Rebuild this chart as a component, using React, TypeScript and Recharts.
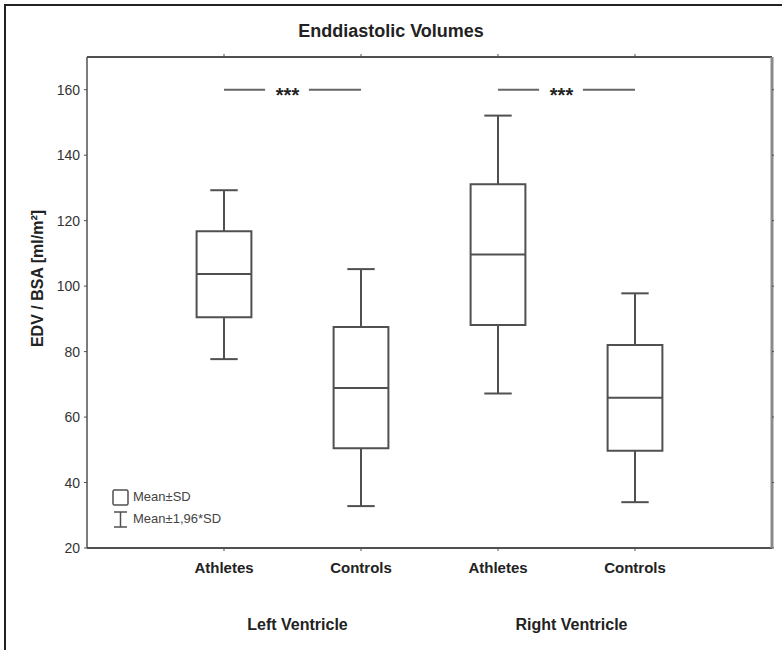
import React from "react";
import {
  ComposedChart,
  Scatter,
  XAxis,
  YAxis,
  ReferenceArea,
  ReferenceLine,
  ReferenceDot,
} from "recharts";

// values (ml/m²)
const categories = ["Athletes", "Controls", "Athletes", "Controls"];
const groups = ["Left Ventricle", "Right Ventricle"];
const means = [103.7, 68.9, 109.7, 65.9];
const sdLow = [90.5, 50.5, 88.1, 49.7];
const sdHigh = [116.8, 87.5, 131.1, 82.0];
const ciLow = [77.7, 32.8, 67.2, 34.0];
const ciHigh = [129.3, 105.2, 152.1, 97.8];
const yTicks = [20, 40, 60, 80, 100, 120, 140, 160];
const sigPairs = [
  { from: 1, to: 2, value: 160, label: "***" },
  { from: 3, to: 4, value: 160, label: "***" },
];

const FONT = "'Liberation Sans', Arial, sans-serif";
const INK = "#505050";
const BOX_HALF = 0.2;
const CAP_HALF = 0.1;
const SIG_GAP = 0.16;

const boxData = categories.map((name, i) => ({
  pos: i + 1,
  name,
  mean: means[i],
  lo: sdLow[i],
  hi: sdHigh[i],
  min: ciLow[i],
  max: ciHigh[i],
}));

const YLabel = ({ viewBox }: any) => {
  const cx = viewBox.x + viewBox.width / 2 - 6;
  const cy = viewBox.y + viewBox.height / 2 - 24;
  return (
    <text
      transform={`translate(${cx},${cy}) rotate(-90)`}
      textAnchor="middle"
      dominantBaseline="central"
      fontFamily={FONT}
      fontWeight="bold"
      fontSize={16}
      fill="#222"
    >
      EDV / BSA [ml/m²]
    </text>
  );
};

const Stars = ({ viewBox, value }: any) => {
  const cx = viewBox.x + viewBox.width / 2 - 5;
  const cy = viewBox.y + viewBox.height / 2;
  return (
    <text x={cx} y={cy + 12} textAnchor="middle" fontFamily={FONT} fontWeight="bold" fontSize={20} fill="#222">
      {value}
    </text>
  );
};

export default function App() {
  return (
    <div style={{ position: "absolute", left: 0, top: 0, width: 782, height: 650, background: "#fff", fontFamily: FONT }}>
      <div
        style={{
          position: "absolute",
          left: 0,
          top: 21,
          width: 782,
          textAlign: "center",
          fontWeight: "bold",
          fontSize: 18,
          color: "#222",
        }}
      >
        Enddiastolic Volumes
      </div>

      <ComposedChart width={782} height={650} margin={{ top: 0, right: 0, bottom: 0, left: 0 }} data={boxData}>
        <XAxis
          xAxisId="top"
          orientation="top"
          type="number"
          dataKey="pos"
          domain={[0, 5]}
          ticks={[1, 2, 3, 4]}
          allowDataOverflow
          height={57}
          tickFormatter={() => ""}
          tickSize={3}
          axisLine={{ stroke: INK, strokeWidth: 2 }}
          tickLine={{ stroke: INK }}
        />
        <XAxis
          type="number"
          dataKey="pos"
          domain={[0, 5]}
          ticks={[1, 2, 3, 4]}
          allowDataOverflow
          height={40}
          tickSize={3}
          tickMargin={11}
          tickFormatter={(v) => categories[v - 1]}
          tick={{ fill: "#222", fontSize: 15, fontWeight: "bold", fontFamily: FONT }}
          axisLine={{ stroke: INK, strokeWidth: 2 }}
          tickLine={{ stroke: INK }}
        />
        <XAxis
          xAxisId="group"
          type="number"
          dataKey="pos"
          domain={[0, 5]}
          ticks={[1.5, 3.5]}
          allowDataOverflow
          height={62}
          axisLine={false}
          tickLine={false}
          tickSize={0}
          tickMargin={31}
          tickFormatter={(v) => groups[Math.floor(v / 2)]}
          tick={{ fill: "#222", fontSize: 16, fontWeight: "bold", fontFamily: FONT, dx: 5 }}
        />
        <YAxis
          type="number"
          domain={[20, 170]}
          ticks={yTicks}
          allowDataOverflow
          width={87}
          tickSize={3}
          tickMargin={4}
          tick={{ fill: "#333", fontSize: 14, fontFamily: FONT }}
          axisLine={{ stroke: INK, strokeWidth: 1.5 }}
          tickLine={{ stroke: INK }}
          label={<YLabel />}
        />
        <YAxis
          yAxisId="right"
          orientation="right"
          type="number"
          domain={[20, 170]}
          ticks={yTicks}
          allowDataOverflow
          width={10}
          tickSize={2}
          tickFormatter={() => ""}
          axisLine={{ stroke: "#8a8a8a", strokeWidth: 3 }}
          tickLine={{ stroke: INK }}
        />

        {boxData.map((d) => (
          <ReferenceLine
            key={`wu${d.pos}`}
            segment={[{ x: d.pos, y: d.hi }, { x: d.pos, y: d.max }]}
            stroke={INK}
            strokeWidth={2}
          />
        ))}
        {boxData.map((d) => (
          <ReferenceLine
            key={`wl${d.pos}`}
            segment={[{ x: d.pos, y: d.min }, { x: d.pos, y: d.lo }]}
            stroke={INK}
            strokeWidth={2}
          />
        ))}
        {boxData.map((d) => (
          <ReferenceLine
            key={`cu${d.pos}`}
            segment={[{ x: d.pos - CAP_HALF, y: d.max }, { x: d.pos + CAP_HALF, y: d.max }]}
            stroke={INK}
            strokeWidth={2}
          />
        ))}
        {boxData.map((d) => (
          <ReferenceLine
            key={`cl${d.pos}`}
            segment={[{ x: d.pos - CAP_HALF, y: d.min }, { x: d.pos + CAP_HALF, y: d.min }]}
            stroke={INK}
            strokeWidth={2}
          />
        ))}
        {boxData.map((d) => (
          <ReferenceArea
            key={`b${d.pos}`}
            x1={d.pos - BOX_HALF}
            x2={d.pos + BOX_HALF}
            y1={d.lo}
            y2={d.hi}
            fill="#fff"
            fillOpacity={1}
            stroke={INK}
            strokeWidth={2}
          />
        ))}
        {boxData.map((d) => (
          <ReferenceLine
            key={`m${d.pos}`}
            segment={[{ x: d.pos - BOX_HALF, y: d.mean }, { x: d.pos + BOX_HALF, y: d.mean }]}
            stroke={INK}
            strokeWidth={2}
          />
        ))}

        {sigPairs.map((s) => {
          const mid = (s.from + s.to) / 2;
          return (
            <React.Fragment key={`s${s.from}`}>
              <ReferenceLine
                segment={[{ x: s.from, y: s.value }, { x: mid - SIG_GAP - 0.04, y: s.value }]}
                stroke="#666"
                strokeWidth={2}
              />
              <ReferenceLine
                segment={[{ x: mid + SIG_GAP - 0.04, y: s.value }, { x: s.to, y: s.value }]}
                stroke="#666"
                strokeWidth={2}
              />
              <ReferenceDot x={mid} y={s.value} r={0} fill="none" stroke="none" label={<Stars value={s.label} />} />
            </React.Fragment>
          );
        })}

        <Scatter dataKey="mean" shape={() => <g />} isAnimationActive={false} />
      </ComposedChart>

      <div style={{ position: "absolute", left: 112, top: 487, fontSize: 13, color: "#444", lineHeight: "20px" }}>
        <div style={{ display: "flex", alignItems: "center" }}>
          <svg width={17} height={17} style={{ marginRight: 4 }}>
            <rect x={1} y={1} width={15} height={15} rx={1.5} fill="#fff" stroke={INK} strokeWidth={1.5} />
          </svg>
          Mean±SD
        </div>
        <div style={{ display: "flex", alignItems: "center", marginTop: 2 }}>
          <svg width={17} height={17} style={{ marginRight: 4 }}>
            <line x1={2} y1={1} x2={15} y2={1} stroke={INK} strokeWidth={1.5} />
            <line x1={8.5} y1={1} x2={8.5} y2={16} stroke={INK} strokeWidth={1.5} />
            <line x1={2} y1={16} x2={15} y2={16} stroke={INK} strokeWidth={1.5} />
          </svg>
          Mean±1,96*SD
        </div>
      </div>

      <svg width={782} height={650} style={{ position: "absolute", left: 0, top: 0, pointerEvents: "none" }}>
        <polyline points="5,650 5,5 782,5" fill="none" stroke="#222" strokeWidth={2} />
      </svg>
    </div>
  );
}
